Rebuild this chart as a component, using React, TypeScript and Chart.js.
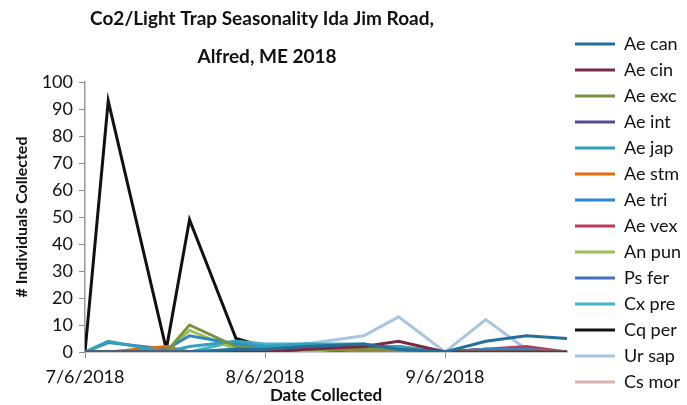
import React, { useEffect, useRef } from 'react';
import { Chart, registerables } from 'chart.js';

Chart.register(...registerables);

// Collection dates (x) and axis tick labels
const collectionDates = ['7/6/2018', '7/10/2018', '7/20/2018', '7/24/2018', '8/1/2018', '8/6/2018', '8/13/2018', '8/23/2018', '8/29/2018', '9/6/2018', '9/13/2018', '9/20/2018', '9/27/2018'];
const xTickDates = ['7/6/2018', '8/6/2018', '9/6/2018'];
const yMin = 0;
const yMax = 100;
const yStep = 10;

// Series values (individuals collected per date)
const aeCan = [0, 0, 0, 0, 1, 1, 2, 3, 1, 0, 4, 6, 5];
const aeCin = [0, 0, 0, 0, 0, 0, 1, 2, 4, 0, 0, 0, 0];
const aeExc = [0, 0, 0, 10, 2, 1, 1, 1, 1, 0, 0, 0, 0];
const aeInt = [0, 0, 0, 0, 0, 0, 1, 2, 1, 0, 0, 0, 0];
const aeJap = [0, 4, 0, 2, 4, 2, 3, 2, 2, 0, 0, 0, 0];
const aeStm = [0, 0, 2, 0, 0, 1, 2, 0, 0, 0, 0, 0, 0];
const aeTri = [0, 3.5, 1, 6, 3, 2, 2, 2, 1, 0, 1, 1, 0];
const aeVex = [0, 0, 0, 0, 0, 0, 2, 1, 1, 0, 1, 2, 0];
const anPun = [0, 0, 0, 8, 1, 1, 0, 2, 2, 0, 0, 0, 0];
const psFer = [0, 0, 0, 0, 0, 0, 0, 1, 0, 0, 1, 0, 0];
const cxPre = [0, 0, 0, 0, 4, 3, 3, 3, 1, 0, 1, 0, 0];
const cqPer = [0, 93, 1, 49, 5, 2, 0, 0, 0, 0, 0, 0, 0];
const urSap = [0, 0, 0, 0, 1, 2, 3, 6, 13, 0, 12, 1, 0];
const csMor = [0, 0, 0, 0, 0, 1, 2, 1, 1, 0, 0, 1, 0];

const seriesNames = ['Ae can', 'Ae cin', 'Ae exc', 'Ae int', 'Ae jap', 'Ae stm', 'Ae tri', 'Ae vex', 'An pun', 'Ps fer', 'Cx pre', 'Cq per', 'Ur sap', 'Cs mor'];
const seriesValues = [aeCan, aeCin, aeExc, aeInt, aeJap, aeStm, aeTri, aeVex, anPun, psFer, cxPre, cqPer, urSap, csMor];
const seriesColors = ['#21709E', '#7A2A40', '#77933C', '#5B4A8E', '#35A0BC', '#E46C0A', '#2E86C8', '#C0395B', '#9BC05A', '#4A6CC2', '#45B4C8', '#111111', '#A9C6E0', '#D9B3B3'];

const titleLines = ['Co2/Light Trap Seasonality Ida Jim Road,', 'Alfred, ME 2018'];
const xTitle = 'Date Collected';
const yTitle = '# Individuals Collected';

const FONT = 'Lato, "Open Sans", sans-serif';

function dayOf(s: string): number {
  const [m, d, y] = s.split('/').map(Number);
  const base = Date.UTC(2018, 6, 6);
  return Math.round((Date.UTC(y, m - 1, d) - base) / 86400000);
}

const titlePlugin = {
  id: 'customTitle',
  afterDraw(chart: any) {
    const ctx = chart.ctx;
    ctx.save();
    ctx.fillStyle = '#111';
    ctx.font = `bold 19px ${FONT}`;
    ctx.textAlign = 'center';
    ctx.textBaseline = 'middle';
    ctx.fillText(titleLines[0], 262, 19);
    ctx.fillText(titleLines[1], 267, 57);
    ctx.restore();
  },
};

export default function App() {
  const ref = useRef<HTMLCanvasElement | null>(null);
  useEffect(() => {
    document.body.style.margin = '0';
    if (!ref.current) return;
    const xs = collectionDates.map(dayOf);
    const chart = new Chart(ref.current, {
      type: 'line',
      data: {
        datasets: seriesNames.map((name, i) => ({
          label: name,
          data: seriesValues[i].map((v, j) => ({ x: xs[j], y: v })),
          borderColor: seriesColors[i],
          backgroundColor: seriesColors[i],
          borderWidth: 3,
          pointRadius: 0,
          tension: 0,
          fill: false,
        })),
      },
      options: {
        responsive: false,
        animation: false,
        devicePixelRatio: 1,
        layout: { padding: { top: 27, left: 0, right: 0, bottom: 0 } },
        plugins: {
          title: { display: true, text: '', font: { size: 10, lineHeight: 1 }, padding: { top: 0, bottom: 45 } },
          tooltip: { enabled: false },
          legend: {
            position: 'right',
            align: 'start',
            maxWidth: 120,
            labels: {
              boxWidth: 40,
              boxHeight: 0,
              padding: 8,
              color: '#111',
              font: { family: FONT, size: 18 },
            },
          },
        },
        scales: {
          x: {
            type: 'linear',
            min: dayOf(collectionDates[0]),
            max: dayOf(collectionDates[collectionDates.length - 1]),
            afterBuildTicks: (scale: any) => {
              scale.ticks = xTickDates.map((d) => ({ value: dayOf(d) }));
            },
            afterFit: (scale: any) => {
              scale.height = 53;
            },
            ticks: {
              autoSkip: false,
              maxRotation: 0,
              padding: 8,
              color: '#111',
              font: { family: FONT, size: 18 },
              callback: (_v: any, i: number) => xTickDates[i],
            },
            grid: { drawOnChartArea: false, tickLength: 6, color: '#8c8c8c' },
            border: { color: '#9a9a9a', width: 1.5 },
            title: { display: true, text: xTitle, color: '#111', font: { family: FONT, size: 17, weight: 'bold' }, padding: { top: 0, bottom: -1 } },
          },
          y: {
            min: yMin,
            max: yMax,
            afterFit: (scale: any) => {
              scale.width = 85;
            },
            ticks: { stepSize: yStep, padding: 6, color: '#111', font: { family: FONT, size: 18 } },
            grid: { drawOnChartArea: false, tickLength: 6, color: '#8c8c8c' },
            border: { color: '#9a9a9a', width: 1.5 },
            title: { display: true, text: yTitle, color: '#111', font: { family: FONT, size: 16, weight: 'bold' }, padding: { top: 12, bottom: 0 } },
          },
        },
      },
      plugins: [titlePlugin],
    });
    return () => chart.destroy();
  }, []);
  return <canvas ref={ref} width={687} height={405} />;
}
